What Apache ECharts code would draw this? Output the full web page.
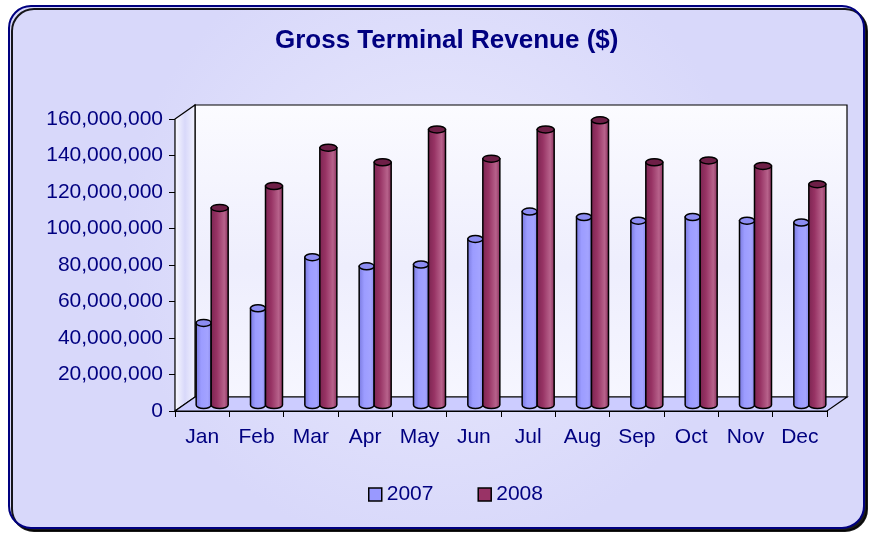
<!DOCTYPE html>
<html>
<head>
<meta charset="utf-8">
<script src="https://cdn.jsdelivr.net/npm/echarts@6/dist/echarts.min.js"></script>
<style>
  html, body { margin: 0; padding: 0; background: #fff; }
  #chart { width: 870px; height: 535px; }
</style>
</head>
<body>
<div id="chart"></div>
<script>
const months = ['Jan', 'Feb', 'Mar', 'Apr', 'May', 'Jun', 'Jul', 'Aug', 'Sep', 'Oct', 'Nov', 'Dec']
const years = ['2007', '2008']
const revenue2007 = [45e6, 53e6, 81e6, 76e6, 77e6, 91e6, 106e6, 103e6, 101e6, 103e6, 101e6, 100e6]
const revenue2008 = [108e6, 120e6, 141e6, 133e6, 151e6, 135e6, 151e6, 156e6, 133e6, 134e6, 131e6, 121e6]
const yTicks = [0, 20e6, 40e6, 60e6, 80e6, 100e6, 120e6, 140e6, 160e6]

const navy = '#000080'
const font = 'Liberation Sans, Arial, sans-serif'

// depth offsets for the fake 3d box
const wallDx = 20, wallDy = -14
const barDx = 9, barDy = -6

const barLooks = [
  {
    width: 15, offset: -15,
    body: ['#7676dc', '#9c9cff', '#a3a3ff', '#8585e8'],
    top: '#8c8cf2',
  },
  {
    width: 17, offset: 0,
    body: ['#7a2450', '#973364', '#b7628b', '#842a57'],
    top: '#6e1f47',
  },
]

function renderWalls(params) {
  const cs = params.coordSys
  const x = cs.x, y = cs.y, w = cs.width, h = cs.height
  const line = { stroke: '#000', lineWidth: 1.2 }
  return {
    type: 'group',
    silent: true,
    children: [
      {
        type: 'polygon',
        shape: { points: [[x + wallDx, y + wallDy], [x + w + wallDx, y + wallDy], [x + w + wallDx, y + h + wallDy], [x + wallDx, y + h + wallDy]] },
        style: Object.assign({
          fill: new echarts.graphic.LinearGradient(0, 0, 0, 1, [
            { offset: 0, color: '#fbfbff' },
            { offset: 0.55, color: '#eeeefd' },
            { offset: 1, color: '#f6f6ff' },
          ]),
        }, line),
      },
      {
        type: 'polygon',
        shape: { points: [[x, y], [x + wallDx, y + wallDy], [x + wallDx, y + h + wallDy], [x, y + h]] },
        style: Object.assign({
          fill: new echarts.graphic.LinearGradient(0, 0, 1, 0, [
            { offset: 0, color: '#fbfbff' },
            { offset: 0.5, color: '#d8d8fa' },
            { offset: 1, color: '#f4f4ff' },
          ]),
        }, line),
      },
      {
        type: 'polygon',
        shape: { points: [[x, y + h], [x + wallDx, y + h + wallDy], [x + w + wallDx, y + h + wallDy], [x + w, y + h]] },
        style: Object.assign({ fill: '#ccccff' }, line),
      },
    ],
  }
}

function renderBar(params, api) {
  const look = barLooks[params.seriesIndex - 1]
  const cat = api.value(0)
  const top = api.coord([cat, api.value(1)])
  const base = api.coord([cat, 0])
  const x0 = top[0] + barDx + look.offset
  const x1 = x0 + look.width
  const yt = top[1] + barDy
  const yb = base[1] + barDy
  const rx = look.width / 2
  const ry = 3.5
  const grad = new echarts.graphic.LinearGradient(0, 0, 1, 0, [
    { offset: 0, color: look.body[0] },
    { offset: 0.35, color: look.body[1] },
    { offset: 0.75, color: look.body[2] },
    { offset: 1, color: look.body[3] },
  ])
  return {
    type: 'group',
    children: [
      {
        type: 'path',
        shape: {
          pathData: `M ${x0} ${yt} L ${x0} ${yb} A ${rx} ${ry} 0 0 0 ${x1} ${yb} L ${x1} ${yt} Z`,
        },
        style: { fill: grad, stroke: '#000', lineWidth: 1.5 },
      },
      {
        type: 'ellipse',
        shape: { cx: x0 + rx, cy: yt, rx: rx, ry: ry },
        style: { fill: look.top, stroke: '#000', lineWidth: 1.5 },
      },
    ],
  }
}

const chart = echarts.init(document.getElementById('chart'))

chart.setOption({
  animation: false,
  graphic: [
    {
      type: 'rect',
      z: -10,
      shape: { x: 9, y: 6, width: 855, height: 522, r: 22 },
      style: {
        fill: new echarts.graphic.RadialGradient(0.5, 0.45, 0.6, [
          { offset: 0, color: '#e9e9fd' },
          { offset: 1, color: '#d8d8fa' },
        ]),
        stroke: navy,
        lineWidth: 2,
        shadowColor: 'rgba(0,0,0,0.9)',
        shadowOffsetX: 3,
        shadowOffsetY: 3,
      },
    },
  ],
  title: {
    text: 'Gross Terminal Revenue ($)',
    left: 270,
    top: 23,
    textStyle: { color: navy, fontFamily: font, fontSize: 26, fontWeight: 'bold' },
  },
  legend: {
    left: 363,
    top: 479,
    itemWidth: 13,
    itemHeight: 13,
    itemGap: 44,
    icon: 'rect',
    textStyle: { color: navy, fontFamily: font, fontSize: 21, padding: [0, 0, 0, 0] },
    data: [
      { name: years[0], itemStyle: { color: '#9999ff', borderColor: '#000', borderWidth: 1.5 } },
      { name: years[1], itemStyle: { color: '#993366', borderColor: '#000', borderWidth: 1.5 } },
    ],
  },
  grid: { left: 175, right: 43, top: 119, bottom: 124 },
  xAxis: {
    type: 'category',
    data: months,
    axisLine: { lineStyle: { color: '#000', width: 1.2 } },
    axisTick: { show: true, length: 6, lineStyle: { color: '#000' } },
    axisLabel: { color: navy, fontFamily: font, fontSize: 21, margin: 16 },
  },
  yAxis: {
    type: 'value',
    min: yTicks[0],
    max: yTicks[yTicks.length - 1],
    interval: yTicks[1] - yTicks[0],
    splitLine: { show: false },
    axisLine: { show: true, lineStyle: { color: '#000', width: 1.2 } },
    axisTick: { show: true, length: 6, lineStyle: { color: '#000' } },
    axisLabel: {
      color: navy, fontFamily: font, fontSize: 21, margin: 12,
      formatter: (v) => v.toLocaleString('en-US'),
    },
  },
  series: [
    {
      name: 'walls',
      type: 'custom',
      z: 1,
      silent: true,
      renderItem: renderWalls,
      data: [[0, 0]],
      encode: { x: 0, y: 1 },
    },
    {
      name: years[0],
      type: 'custom',
      z: 2,
      itemStyle: { color: '#9999ff' },
      renderItem: renderBar,
      data: revenue2007.map((v, i) => [i, v]),
      encode: { x: 0, y: 1 },
    },
    {
      name: years[1],
      type: 'custom',
      z: 3,
      itemStyle: { color: '#993366' },
      renderItem: renderBar,
      data: revenue2008.map((v, i) => [i, v]),
      encode: { x: 0, y: 1 },
    },
  ],
})
</script>
</body>
</html>
